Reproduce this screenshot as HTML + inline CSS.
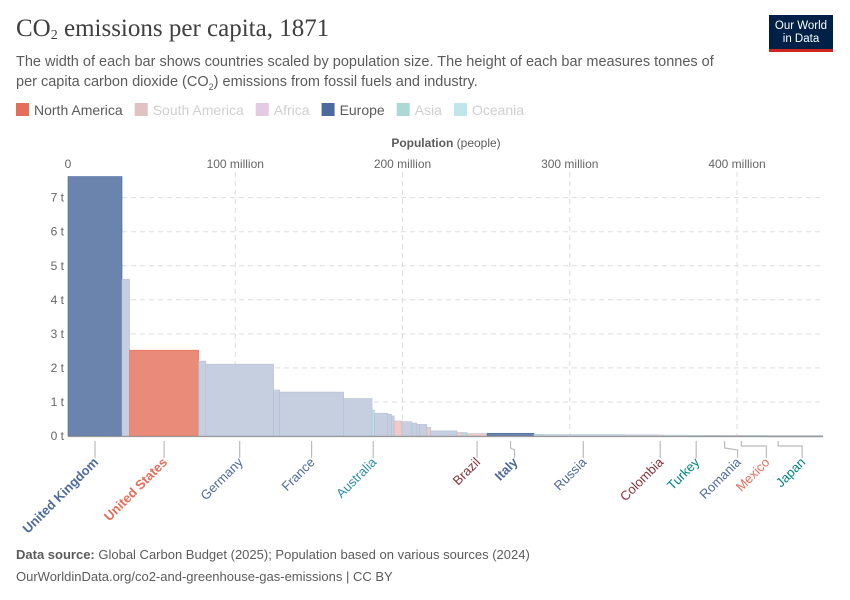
<!DOCTYPE html>
<html><head><meta charset="utf-8">
<style>
body{margin:0;background:#fff;font-family:"Liberation Sans",sans-serif;}
#wrap{position:relative;width:850px;height:600px;overflow:hidden;}
.t{position:absolute;white-space:nowrap;}
</style></head>
<body><div id="wrap">
<div class="t" style="left:16px;top:15px;font-family:'Liberation Serif',serif;font-size:25px;color:#404040;">CO<sub style="font-size:14px;vertical-align:-3px">2</sub> emissions per capita, 1871</div>
<div class="t" style="left:16px;top:52px;font-size:14.5px;line-height:20px;color:#5b5b5b;white-space:normal;width:720px;">The width of each bar shows countries scaled by population size. The height of each bar measures tonnes of per capita carbon dioxide (CO<sub style="font-size:9px">2</sub>) emissions from fossil fuels and industry.</div>
<div style="position:absolute;left:769px;top:15px;width:64px;height:37px;background:#002147;border-bottom:3px solid #ce261e;box-sizing:border-box;color:#fff;font-size:11.5px;line-height:13px;text-align:center;padding-top:5px;">Our World<br>in Data</div>
<svg id="chart" width="850" height="600" style="position:absolute;left:0;top:0"></svg>
<div class="t" style="left:16px;top:547px;font-size:13px;color:#5b5b5b;"><b>Data source:</b> Global Carbon Budget (2025); Population based on various sources (2024)</div>
<div class="t" style="left:16px;top:569px;font-size:13px;color:#5b5b5b;">OurWorldinData.org/co2-and-greenhouse-gas-emissions | CC BY</div>
</div>
<script>
const names=["United Kingdom","","United States","","Germany","","France","","Australia","","","","","","","","","","","","","Brazil","Italy","","Russia","","Colombia","","Turkey","","Romania","","Mexico","","Japan",""];
const pops=[32.3,4.5,41.3,4.3,40.5,3.6,38.3,17,1.4,7.8,2.4,1.6,4.6,6,3,1.6,4.4,2.2,15.8,3,3,12,28,5,49,20,3,15,10,9,6,4,6,12,14,19.5];
const values=[7.62,4.6,2.52,2.2,2.11,1.35,1.29,1.1,0.76,0.67,0.64,0.59,0.44,0.42,0.38,0.34,0.34,0.25,0.15,0.1,0.1,0.07,0.08,0.05,0.04,0.035,0.03,0.025,0.02,0.02,0.02,0.02,0.02,0.02,0.015,0.015];
const regions=["EU","EU","NA","EU","EU","EU","EU","EU","OC","EU","EU","EU","SA","EU","EU","EU","EU","SA","EU","SA","AS","SA","EU","AS","EU","EU","SA","AS","AS","EU","EU","AS","NA","AS","AS","AS"];
const highlighted=["United Kingdom","United States","Italy"];
const xTicks=[0,100,200,300,400];
const xTickLabels=["0","100 million","200 million","300 million","400 million"];
const yTicks=[0,1,2,3,4,5,6,7];
const legendNames=["North America","South America","Africa","Europe","Asia","Oceania"];
const legendColors=["#e56e5a","#dfc3c3","#e3cbe3","#4c6a9c","#acd9d6","#bfe6ea"];
const legendFaded=[false,true,true,false,true,true];

const svg=document.getElementById('chart');
const NS="http://www.w3.org/2000/svg";
const X0=68,PXM=1.6725,Y0=436,PYT=34.05;
const xs=v=>X0+v*PXM, ys=v=>Y0-v*PYT;
function mk(tag,attrs,parent){const e=document.createElementNS(NS,tag);for(const k in attrs)e.setAttribute(k,attrs[k]);(parent||svg).appendChild(e);return e;}
const dimCol={EU:"#c6cfdf",NA:"#f3c2b9",SA:"#f2c9c5",AS:"#b8dedb",OC:"#b9e3ea"};
const hiCol={EU:"#6b84ae",NA:"#ea8a78"};
const labCol={EU:"#4c6a9c",NA:"#e56e5a",SA:"#883039",AS:"#00847e",OC:"#2c8fa8"};

let lx=16;
legendNames.forEach((n,i)=>{
 const r=mk('rect',{x:lx,y:103,width:13,height:13,fill:legendColors[i]});
 
 
 const t=mk('text',{x:lx+18,y:115,'font-size':14,fill:legendFaded[i]?'#cfcfcf':'#5b5b5b'});
 t.textContent=n;
 
 
 lx+=18+t.getComputedTextLength()+12;
});
const at=mk('text',{x:446,y:147,'text-anchor':'middle','font-size':12,fill:'#5b5b5b'});
at.innerHTML='<tspan font-weight="bold">Population</tspan> (people)';


yTicks.forEach(v=>{
 if(v>0){const g=mk('line',{x1:X0,x2:823,y1:ys(v),y2:ys(v),stroke:'#ddd','stroke-dasharray':'5,4'});
 
 }
 const t=mk('text',{x:64,y:ys(v)+4,'text-anchor':'end','font-size':12,fill:'#666'});
 t.textContent=v+' t';
 
 
});
xTicks.forEach((v,i)=>{
 if(v>0){const g=mk('line',{x1:xs(v),x2:xs(v),y1:172,y2:Y0,stroke:'#ddd','stroke-dasharray':'5,4'});
 
 }
 const t=mk('text',{x:xs(v),y:168,'text-anchor':'middle','font-size':12,fill:'#666'});
 t.textContent=xTickLabels[i];
 
 
});
let cum=0;const centers=[];
pops.forEach((p,i)=>{
 const x=xs(cum),w=p*PXM,reg=regions[i];
 const hi=highlighted.includes(names[i]);
 const r=mk('rect',{x:x,y:ys(values[i]),width:Math.max(w,0.5),height:Math.max(values[i]*PYT,1.5),fill:hi?hiCol[reg]:dimCol[reg],stroke:hi?(reg==='NA'?'#e56e5a':'#4c6a9c'):'#b4bfd2','stroke-width':0.6});
 
 
 centers.push(x+w/2);cum+=p;
});
const ax=mk('line',{x1:X0,x2:823,y1:Y0+0.5,y2:Y0+0.5,stroke:'#999','stroke-width':1.2});


const labelShift={"Italy":4,"Romania":13,"Mexico":25,"Japan":24};
names.forEach((n,i)=>{
 if(!n)return;
 const cx=centers[i],lx2=cx+(labelShift[n]||0);
 let d='M'+cx+',441 L'+cx+','+(labelShift[n]?448:458);
 if(labelShift[n])d+=' L'+lx2+',450 L'+lx2+',458';
 if(n==='Mexico'||n==='Japan')d='M'+cx+',441 L'+cx+',446 L'+lx2+',446 L'+lx2+',458';
 const p=mk('path',{d:d,fill:'none',stroke:'#bbb','stroke-width':1.2});
 
 
 const hi=highlighted.includes(n);
 const t=mk('text',{x:lx2+4,y:463,'text-anchor':'end','font-size':13,'font-weight':hi?'bold':'normal',fill:labCol[regions[i]],transform:'rotate(-45 '+(lx2+4)+' 463)'});
 t.textContent=n;
 
 
});
</script>
</body></html>
